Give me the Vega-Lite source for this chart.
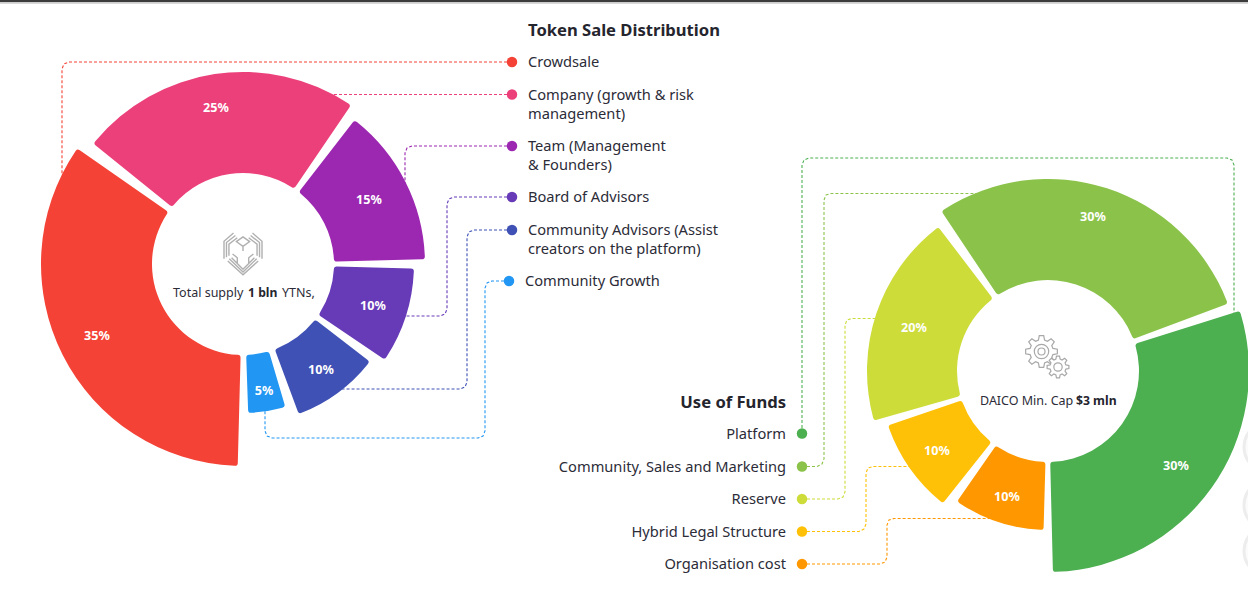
{
"$schema":"https://vega.github.io/schema/vega-lite/v6.json",
"width":1248,"height":613,"padding":0,"autosize":{"type":"none"},
"background":"#ffffff",
"config":{"view":{"stroke":null},"text":{"font":"Noto Sans"}},
"datasets":{
"slices":[
{"series":"Crowdsale","x":243,"y":264,"start":181.5,"end":304.9,"outer":202,"inner":91},
{"series":"Company","x":243,"y":264,"start":308.8,"end":394.2,"outer":192,"inner":91},
{"series":"Team","x":243,"y":264,"start":37.8,"end":88.5,"outer":182,"inner":91},
{"series":"Board of Advisors","x":243,"y":264,"start":91.5,"end":124,"outer":171,"inner":91},
{"series":"Community Advisors","x":243,"y":264,"start":127.6,"end":159.6,"outer":160,"inner":91},
{"series":"Community Growth","x":243,"y":264,"start":163.5,"end":178,"outer":149,"inner":91},
{"series":"Platform","x":1048,"y":371,"start":72.6,"end":178.6,"outer":201,"inner":91},
{"series":"Community, Sales and Marketing","x":1048,"y":371,"start":326.3,"end":429.5,"outer":192,"inner":91},
{"series":"Reserve","x":1048,"y":371,"start":254.1,"end":322.7,"outer":181,"inner":91},
{"series":"Hybrid Legal Structure","x":1048,"y":371,"start":218.5,"end":251.2,"outer":169,"inner":91},
{"series":"Organisation cost","x":1048,"y":371,"start":181.6,"end":214.9,"outer":159,"inner":91}
],
"leaders":[
{"series":"Crowdsale","step":0,"x":512,"y":62},{"series":"Crowdsale","step":1,"x":69,"y":62},{"series":"Crowdsale","step":2,"x":64,"y":64},{"series":"Crowdsale","step":3,"x":62,"y":69},{"series":"Crowdsale","step":4,"x":62,"y":175},
{"series":"Company","step":0,"x":512,"y":94.5},{"series":"Company","step":1,"x":330,"y":94.5},
{"series":"Team","step":0,"x":512,"y":146},{"series":"Team","step":1,"x":412,"y":146},{"series":"Team","step":2,"x":407,"y":148},{"series":"Team","step":3,"x":405,"y":153},{"series":"Team","step":4,"x":405,"y":185},
{"series":"Board of Advisors","step":0,"x":512,"y":197},{"series":"Board of Advisors","step":1,"x":454,"y":197},{"series":"Board of Advisors","step":2,"x":449,"y":199},{"series":"Board of Advisors","step":3,"x":447,"y":204},{"series":"Board of Advisors","step":4,"x":447,"y":309},{"series":"Board of Advisors","step":5,"x":445,"y":314},{"series":"Board of Advisors","step":6,"x":440,"y":316},{"series":"Board of Advisors","step":7,"x":400,"y":316},
{"series":"Community Advisors","step":0,"x":512,"y":230},{"series":"Community Advisors","step":1,"x":474,"y":230},{"series":"Community Advisors","step":2,"x":469,"y":232},{"series":"Community Advisors","step":3,"x":467,"y":237},{"series":"Community Advisors","step":4,"x":467,"y":382},{"series":"Community Advisors","step":5,"x":465,"y":387},{"series":"Community Advisors","step":6,"x":460,"y":389},{"series":"Community Advisors","step":7,"x":335,"y":389},
{"series":"Community Growth","step":0,"x":509,"y":281},{"series":"Community Growth","step":1,"x":492,"y":281},{"series":"Community Growth","step":2,"x":487,"y":283},{"series":"Community Growth","step":3,"x":485,"y":288},{"series":"Community Growth","step":4,"x":485,"y":431},{"series":"Community Growth","step":5,"x":483,"y":436},{"series":"Community Growth","step":6,"x":478,"y":438},{"series":"Community Growth","step":7,"x":272,"y":438},{"series":"Community Growth","step":8,"x":267,"y":436},{"series":"Community Growth","step":9,"x":265,"y":431},{"series":"Community Growth","step":10,"x":265,"y":410},
{"series":"Platform","step":0,"x":802,"y":433},{"series":"Platform","step":1,"x":802,"y":165},{"series":"Platform","step":2,"x":804,"y":160},{"series":"Platform","step":3,"x":809,"y":158},{"series":"Platform","step":4,"x":1227,"y":158},{"series":"Platform","step":5,"x":1232,"y":160},{"series":"Platform","step":6,"x":1234,"y":165},{"series":"Platform","step":7,"x":1234,"y":320},
{"series":"Community, Sales and Marketing","step":0,"x":802,"y":466.5},{"series":"Community, Sales and Marketing","step":1,"x":817,"y":466.5},{"series":"Community, Sales and Marketing","step":2,"x":822,"y":464},{"series":"Community, Sales and Marketing","step":3,"x":824,"y":459},{"series":"Community, Sales and Marketing","step":4,"x":824,"y":200},{"series":"Community, Sales and Marketing","step":5,"x":826,"y":195},{"series":"Community, Sales and Marketing","step":6,"x":831,"y":193.5},{"series":"Community, Sales and Marketing","step":7,"x":980,"y":193.5},
{"series":"Reserve","step":0,"x":802,"y":499},{"series":"Reserve","step":1,"x":838,"y":499},{"series":"Reserve","step":2,"x":843,"y":497},{"series":"Reserve","step":3,"x":845,"y":492},{"series":"Reserve","step":4,"x":845,"y":325},{"series":"Reserve","step":5,"x":847,"y":320},{"series":"Reserve","step":6,"x":852,"y":318.5},{"series":"Reserve","step":7,"x":885,"y":318.5},
{"series":"Hybrid Legal Structure","step":0,"x":802,"y":531.5},{"series":"Hybrid Legal Structure","step":1,"x":859,"y":531.5},{"series":"Hybrid Legal Structure","step":2,"x":864,"y":529},{"series":"Hybrid Legal Structure","step":3,"x":866,"y":524},{"series":"Hybrid Legal Structure","step":4,"x":866,"y":473},{"series":"Hybrid Legal Structure","step":5,"x":868,"y":468},{"series":"Hybrid Legal Structure","step":6,"x":873,"y":466.5},{"series":"Hybrid Legal Structure","step":7,"x":915,"y":466.5},
{"series":"Organisation cost","step":0,"x":802,"y":564},{"series":"Organisation cost","step":1,"x":880,"y":564},{"series":"Organisation cost","step":2,"x":885,"y":562},{"series":"Organisation cost","step":3,"x":887,"y":557},{"series":"Organisation cost","step":4,"x":887,"y":525},{"series":"Organisation cost","step":5,"x":889,"y":520},{"series":"Organisation cost","step":6,"x":894,"y":518.5},{"series":"Organisation cost","step":7,"x":995,"y":518.5}
],
"dots":[
{"series":"Crowdsale","x":512,"y":62},{"series":"Company","x":512,"y":94.5},{"series":"Team","x":512,"y":146},{"series":"Board of Advisors","x":512,"y":197},{"series":"Community Advisors","x":512,"y":230},{"series":"Community Growth","x":509,"y":281},
{"series":"Platform","x":802,"y":433.5},{"series":"Community, Sales and Marketing","x":802,"y":466.5},{"series":"Reserve","x":802,"y":499},{"series":"Hybrid Legal Structure","x":802,"y":531.5},{"series":"Organisation cost","x":802,"y":564}
],
"legendLeft":[
{"label":"Crowdsale","x":528,"y":63},{"label":"Company (growth & risk","x":528,"y":96},{"label":"management)","x":528,"y":115},{"label":"Team (Management","x":528,"y":147},{"label":"& Founders)","x":528,"y":166},{"label":"Board of Advisors","x":528,"y":198},{"label":"Community Advisors (Assist","x":528,"y":231},{"label":"creators on the platform)","x":528,"y":250},{"label":"Community Growth","x":525,"y":282}
],
"legendRight":[
{"label":"Platform","x":786,"y":435},{"label":"Community, Sales and Marketing","x":786,"y":468},{"label":"Reserve","x":786,"y":500},{"label":"Hybrid Legal Structure","x":786,"y":533},{"label":"Organisation cost","x":786,"y":565}
],
"percents":[
{"label":"25%","x":216,"y":107.5},{"label":"15%","x":369,"y":199.5},{"label":"10%","x":373,"y":305.5},{"label":"10%","x":321,"y":369.5},{"label":"5%","x":264,"y":390.5},{"label":"35%","x":97,"y":335.5},
{"label":"30%","x":1093,"y":216.5},{"label":"20%","x":914,"y":327.5},{"label":"10%","x":937,"y":450.5},{"label":"10%","x":1007,"y":496.5},{"label":"30%","x":1176,"y":465.5}
],
"centreRegular":[
{"label":"Total supply","x":173,"y":293},{"label":"YTNs,","x":282,"y":293},{"label":"DAICO Min. Cap","x":980,"y":401}
],
"centreBold":[
{"label":"1 bln","x":248,"y":293},{"label":"$3 mln","x":1076,"y":401}
],
"titles":[{"label":"Token Sale Distribution","x":528,"y":30.5}]
},
"encoding":{
"x":{"field":"x","type":"quantitative","scale":{"domain":[0,1248],"range":[0,1248],"nice":false,"zero":false},"axis":null},
"y":{"field":"y","type":"quantitative","scale":{"domain":[0,613],"range":[0,613],"nice":false,"zero":false},"axis":null}
},
"layer":[
{"data":{"values":[{"x":1269,"y":447},{"x":1269,"y":505},{"x":1269,"y":551}]},
 "mark":{"type":"point","shape":"circle","size":2500,"filled":true,"fill":"#fbfbfb","stroke":"#ededed","strokeWidth":3,"opacity":1}},
{"data":{"values":[{"x":0,"x2":1248,"y":1}]},
 "mark":{"type":"rule","stroke":"#3c3c3c","strokeWidth":2.5},"encoding":{"x2":{"field":"x2"}}},
{"data":{"values":[{"x":0,"x2":1248,"y":3}]},
 "mark":{"type":"rule","stroke":"#cccccc","strokeWidth":1.5},"encoding":{"x2":{"field":"x2"}}},
{"data":{"name":"leaders"},
 "mark":{"type":"line","strokeWidth":1.1,"strokeDash":[3,2],"opacity":1,"interpolate":"linear"},
 "encoding":{"order":{"field":"step","type":"quantitative"},
  "detail":{"field":"series"},
  "color":{"field":"series","type":"nominal","legend":null,"scale":{"domain":["Crowdsale","Company","Team","Board of Advisors","Community Advisors","Community Growth","Platform","Community, Sales and Marketing","Reserve","Hybrid Legal Structure","Organisation cost"],"range":["#F44336","#EC407A","#9C27B0","#673AB7","#3F51B5","#2196F3","#4CAF50","#8BC34A","#CDDC39","#FFC107","#FF9800"]}}}},
{"data":{"name":"slices"},
 "mark":{"type":"arc","cornerRadius":3},
 "encoding":{
  "theta":{"field":"start","type":"quantitative","scale":{"domain":[0,360],"range":[0,6.283185]}},
  "theta2":{"field":"end"},
  "radius":{"field":"outer","type":"quantitative","scale":{"type":"linear","domain":[0,300],"range":[0,300],"zero":false,"nice":false}},
  "radius2":{"field":"inner"},
  "color":{"field":"series","type":"nominal","legend":null}}},
{"data":{"name":"dots"},
 "mark":{"type":"point","shape":"circle","filled":true,"size":110,"opacity":1},
 "encoding":{"color":{"field":"series","type":"nominal","legend":null}}},
{"data":{"name":"legendLeft"},
 "mark":{"type":"text","align":"left","baseline":"middle","fontSize":14.65,"color":"#2c2c38"},
 "encoding":{"text":{"field":"label"}}},
{"data":{"name":"legendRight"},
 "mark":{"type":"text","align":"right","baseline":"middle","fontSize":14.65,"color":"#2c2c38"},
 "encoding":{"text":{"field":"label"}}},
{"data":{"name":"titles"},
 "mark":{"type":"text","align":"left","baseline":"middle","fontSize":16.6,"fontWeight":"bold","color":"#25252e"},
 "encoding":{"text":{"field":"label"}}},
{"data":{"values":[{"label":"Use of Funds","x":786,"y":402.5}]},
 "mark":{"type":"text","align":"right","baseline":"middle","fontSize":16.6,"fontWeight":"bold","color":"#25252e"},
 "encoding":{"text":{"field":"label"}}},
{"data":{"name":"percents"},
 "mark":{"type":"text","align":"center","baseline":"middle","fontSize":12.6,"fontWeight":"bold","color":"#ffffff"},
 "encoding":{"text":{"field":"label"}}},
{"data":{"name":"centreRegular"},
 "mark":{"type":"text","align":"left","baseline":"middle","fontSize":12.5,"color":"#2c2c38"},
 "encoding":{"text":{"field":"label"}}},
{"data":{"name":"centreBold"},
 "mark":{"type":"text","align":"left","baseline":"middle","fontSize":12.2,"fontWeight":"bold","color":"#25252e"},
 "encoding":{"text":{"field":"label"}}},
{"data":{"values":[{"icon":"big gear","x":1041.5,"y":351.5}]},
 "mark":{"type":"point","filled":false,"size":1024,"stroke":"#a8a8a8","strokeWidth":1.2,"opacity":1,
  "shape":"M.715 -.192L.99 -.139L.99 .139L.715 .192L.641 .37L.799 .602L.602 .799L.37 .641L.192 .715L.139 .99L-.139 .99L-.192 .715L-.37 .641L-.602 .799L-.799 .602L-.641 .37L-.715 .192L-.99 .139L-.99 -.139L-.715 -.192L-.641 -.37L-.799 -.602L-.602 -.799L-.37 -.641L-.192 -.715L-.139 -.99L.139 -.99L.192 -.715L.37 -.641L.602 -.799L.799 -.602L.641 -.37ZM.45 0A.45 .45 0 1 1 -.45 0A.45 .45 0 1 1 .45 0ZM.22 0A.22 .22 0 1 1 -.22 0A.22 .22 0 1 1 .22 0Z"}},
{"data":{"values":[{"icon":"small gear","x":1058,"y":367}]},
 "mark":{"type":"point","filled":true,"fill":"#ffffff","size":484,"stroke":"#a8a8a8","strokeWidth":1.2,"opacity":1,
  "shape":"M.715 -.192L.99 -.139L.99 .139L.715 .192L.641 .37L.799 .602L.602 .799L.37 .641L.192 .715L.139 .99L-.139 .99L-.192 .715L-.37 .641L-.602 .799L-.799 .602L-.641 .37L-.715 .192L-.99 .139L-.99 -.139L-.715 -.192L-.641 -.37L-.799 -.602L-.602 -.799L-.37 -.641L-.192 -.715L-.139 -.99L.139 -.99L.192 -.715L.37 -.641L.602 -.799L.799 -.602L.641 -.37ZM.38 0A.38 .38 0 1 1 -.38 0A.38 .38 0 1 1 .38 0Z"}},
{"data":{"values":[{"icon":"logo","x":243,"y":253}]},
 "mark":{"type":"point","filled":false,"size":1444,"stroke":"#b0b0b0","strokeWidth":1.4,"opacity":1,
  "shape":"M-.5 -1.05L-1 -.62L-1 .3M-.4 -.92L-.87 -.55L-.87 .22M-.3 -.8L-.74 -.47L-.74 .15M.5 -1.05L1 -.62L1 .3M.4 -.92L.87 -.55L.87 .22M.3 -.8L.74 -.47L.74 .15M-.8 .42L0 1.15L.8 .42M-.72 .3L0 1L.72 .3M-.6 .25L0 .85L.6 .25M0 -.85L.35 -.6L0 -.35L-.35 -.6ZM0 -.35L0 -.1M-.55 .05L-.3 .25L-.3 .55M.55 .05L.3 .25L.3 .55"}}
]
}
